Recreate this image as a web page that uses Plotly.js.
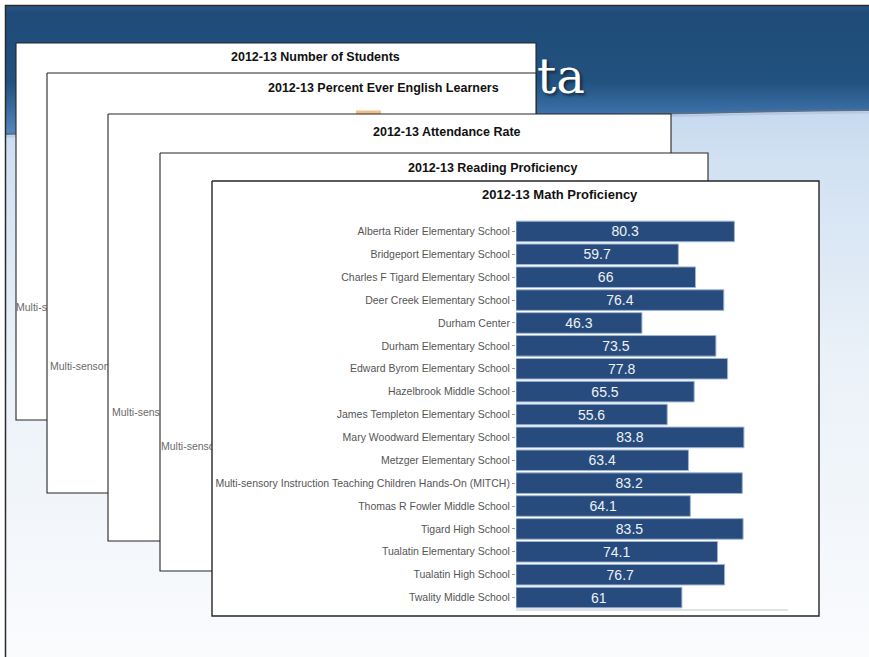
<!DOCTYPE html>
<html>
<head>
<meta charset="utf-8">
<script src="https://cdn.plot.ly/plotly-3.0.1.min.js"></script>
<style>
html,body{margin:0;padding:0;background:#ffffff;}
#wrap{position:relative;width:869px;height:657px;overflow:hidden;}
#bg{position:absolute;left:0;top:0;}
#chart{position:absolute;left:0;top:0;width:869px;height:657px;}
</style>
</head>
<body>
<div id="wrap">
<svg id="bg" width="869" height="657" xmlns="http://www.w3.org/2000/svg">
  <defs>
    <linearGradient id="hdr" x1="0" y1="5" x2="0" y2="134" gradientUnits="userSpaceOnUse">
      <stop offset="0" stop-color="#2a5886"/>
      <stop offset="0.06" stop-color="#1e4b78"/>
      <stop offset="0.6" stop-color="#22527f"/>
      <stop offset="0.82" stop-color="#3a6ea5"/>
      <stop offset="1" stop-color="#5689c0"/>
    </linearGradient>
    <linearGradient id="body" x1="0" y1="110" x2="0" y2="657" gradientUnits="userSpaceOnUse">
      <stop offset="0" stop-color="#c6d9ef"/>
      <stop offset="0.08" stop-color="#d0e0f2"/>
      <stop offset="0.45" stop-color="#eaf1f8"/>
      <stop offset="1" stop-color="#fafbfd"/>
    </linearGradient>
  </defs>
  <rect x="5" y="5" width="864" height="652" fill="url(#body)"/>
  <path d="M5,5 H869 V110 C650,112 300,124 5,134 Z" fill="url(#hdr)"/>
  <path d="M5,134 C300,124 650,112 869,110" stroke="#56708e" stroke-width="2" fill="none"/>
  <path d="M5,136.5 C300,126.5 650,114.5 869,112.5" stroke="#a9bfd8" stroke-width="2" fill="none" opacity="0.6"/>
  <path d="M5.5,657 V5.5 H869" stroke="#2b2b2b" stroke-width="1.5" fill="none"/>
</svg>
<div id="chart"></div>
</div>
<script>
// ---- data ----
const schools = [
  "Alberta Rider Elementary School",
  "Bridgeport Elementary School",
  "Charles F Tigard Elementary School",
  "Deer Creek Elementary School",
  "Durham Center",
  "Durham Elementary School",
  "Edward Byrom Elementary School",
  "Hazelbrook Middle School",
  "James Templeton Elementary School",
  "Mary Woodward Elementary School",
  "Metzger Elementary School",
  "Multi-sensory Instruction Teaching Children Hands-On (MITCH)",
  "Thomas R Fowler Middle School",
  "Tigard High School",
  "Tualatin Elementary School",
  "Tualatin High School",
  "Twality Middle School"
];
const mathProficiency = [80.3, 59.7, 66, 76.4, 46.3, 73.5, 77.8, 65.5, 55.6, 83.8, 63.4, 83.2, 64.1, 83.5, 74.1, 76.7, 61];
const mainTitle = "2012-13 Math Proficiency";
const backTitles = [
  "2012-13 Number of Students",
  "2012-13 Percent Ever English Learners",
  "2012-13 Attendance Rate",
  "2012-13 Reading Proficiency"
];
// visible (partly covered) tick-label fragments on the cards behind
const hiddenLabels = ["Multi-sen", "Multi-sensory", "Multi-sensory", "Multi-sensory"];
const slideWord = "ta";

// ---- layout geometry (pixels) ----
const W = 869, H = 657;
const cards = [ // [left, top, right, bottom, titleX, titleY, labelX, labelY]
  [16, 43, 536, 420, 315, 57, 18, 308],
  [47, 73, 536, 493, 383, 88, 52, 367],
  [108, 114, 671, 541, 447, 132, 114, 413],
  [160, 153, 708, 571, 493, 168, 163, 447],
  [212, 181, 819, 616, 560, 194, 0, 0]
];
const px = x => x / W;
const py = y => 1 - y / H;

const traces = [];
cards.forEach((c, i) => {
  traces.push({
    type: 'scatter', mode: 'lines', xaxis: 'x', yaxis: 'y',
    x: [c[0], c[2], c[2], c[0], c[0]], y: [c[1], c[1], c[3], c[3], c[1]],
    fill: 'toself', fillcolor: '#ffffff',
    line: {color: '#262626', width: i === 4 ? 1.4 : 1.1},
    hoverinfo: 'skip', showlegend: false
  });
  if (i === 1) {
    traces.push({
      type: 'scatter', mode: 'lines', xaxis: 'x', yaxis: 'y',
      x: [356, 381, 381, 356, 356], y: [110.5, 110.5, 118, 118, 110.5],
      fill: 'toself', fillcolor: '#f3bd86', line: {width: 0},
      hoverinfo: 'skip', showlegend: false
    });
  }
  if (i < 4) {
    traces.push({
      type: 'scatter', mode: 'text', xaxis: 'x', yaxis: 'y',
      x: [c[6] - 2], y: [c[7]], text: [hiddenLabels[i]], textposition: 'middle right',
      textfont: {family: 'Liberation Sans, Arial, sans-serif', size: 10.5, color: '#6a6a6a'},
      hoverinfo: 'skip', showlegend: false, cliponaxis: false
    });
  }
});

traces.push({
  type: 'bar', orientation: 'h', xaxis: 'x2', yaxis: 'y2',
  x: mathProficiency, y: schools,
  marker: {color: '#264b7c', line: {color: '#9fb5d5', width: 1}},
  text: mathProficiency.map(v => String(v)),
  textposition: 'inside', insidetextanchor: 'middle', textangle: 0,
  constraintext: 'none',
  textfont: {family: 'Liberation Sans, Arial, sans-serif', size: 14, color: '#eef2f8'},
  hoverinfo: 'skip', showlegend: false
});

const annotations = [];
cards.forEach((c, i) => {
  annotations.push({
    xref: 'paper', yref: 'paper', x: px(c[4]), y: py(c[5]),
    xanchor: 'center', yanchor: 'middle', showarrow: false,
    text: '<b>' + (i < 4 ? backTitles[i] : mainTitle) + '</b>',
    font: {family: 'Liberation Sans, Arial, sans-serif', size: i === 4 ? 13 : 12.5, color: '#111111'}
  });
});
annotations.push({
  xref: 'paper', yref: 'paper', x: px(535), y: py(76),
  xanchor: 'left', yanchor: 'middle', showarrow: false,
  text: slideWord,
  font: {family: 'DejaVu Serif, serif', size: 48, color: '#ffffff', shadow: '2px 2px 3px rgba(0,0,0,0.55)'}
});

const layout = {
  width: W, height: H,
  margin: {l: 0, r: 0, t: 0, b: 0},
  paper_bgcolor: 'rgba(0,0,0,0)', plot_bgcolor: 'rgba(0,0,0,0)',
  showlegend: false,
  xaxis: {domain: [0, 1], range: [0, W], visible: false, fixedrange: true},
  yaxis: {domain: [0, 1], range: [H, 0], visible: false, fixedrange: true},
  xaxis2: {
    domain: [px(516), px(788)], range: [0, 100], anchor: 'y2',
    showticklabels: false, showgrid: false, zeroline: false, ticks: '',
    showline: true, linecolor: '#e2e2e2', linewidth: 2
  },
  yaxis2: {
    domain: [py(609), py(220)], anchor: 'x2', type: 'category', autorange: 'reversed',
    showgrid: false, zeroline: false, showline: false,
    ticks: 'outside', ticklen: 3, tickcolor: '#9a9a9a', tickwidth: 1,
    tickfont: {family: 'Liberation Sans, Arial, sans-serif', size: 10.5, color: '#555555'}
  },
  bargap: 0.1,
  annotations: annotations
};

Plotly.newPlot('chart', traces, layout, {staticPlot: true, displayModeBar: false});
</script>
</body>
</html>
